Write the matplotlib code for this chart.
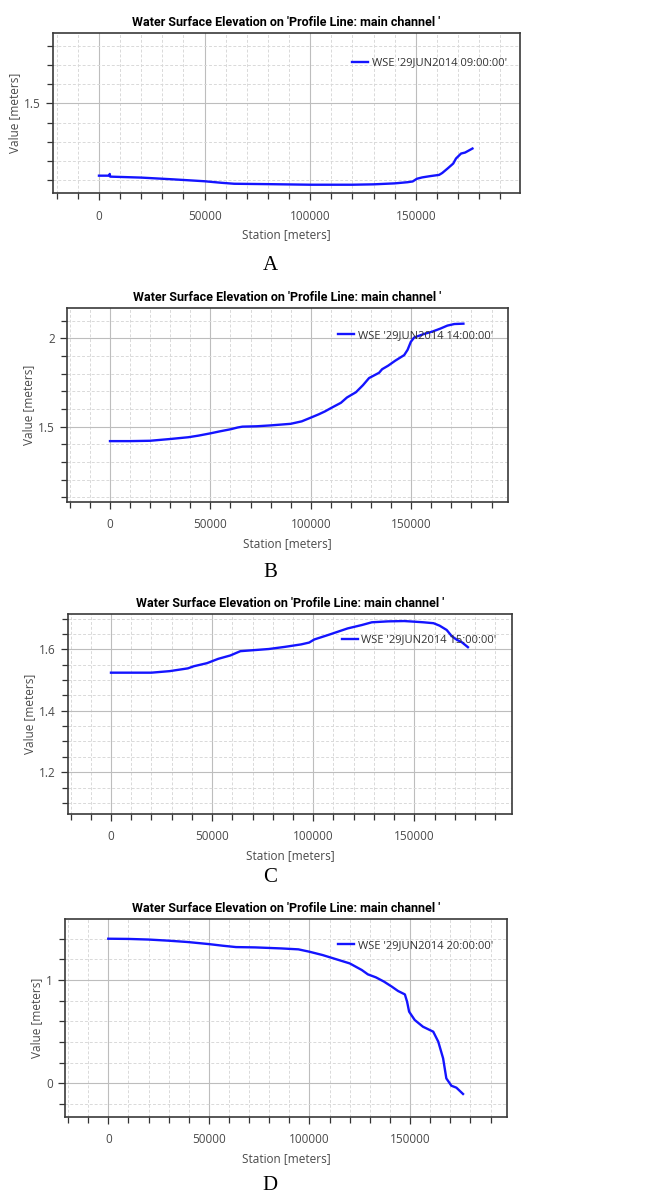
import matplotlib
matplotlib.use("Agg")
import matplotlib.pyplot as plt
from matplotlib.ticker import MultipleLocator, FormatStrFormatter

# station [m] and water surface elevation [m] for each snapshot
a_station = [0, 4900, 5100, 5300, 20000, 35000, 50000, 58000, 64000, 80000,
             100000, 120000, 130000, 140000, 146000, 148500, 150500, 153000,
             157000, 161000, 162500, 165000, 167700, 169000, 171400, 173300, 176800]
a_wse = [1.124, 1.124, 1.133, 1.119, 1.114, 1.105, 1.095, 1.087, 1.082, 1.080,
         1.077, 1.077, 1.079, 1.084, 1.090, 1.094, 1.108, 1.115, 1.122, 1.128,
         1.138, 1.161, 1.187, 1.213, 1.239, 1.244, 1.265]

b_station = [0, 10000, 20000, 30000, 39000, 44000, 50000, 55000, 60000, 63500,
             66000, 73000, 80000, 90000, 95500, 100000, 104000, 107000, 110500,
             115000, 118000, 122500, 126000, 129000, 134000, 135500, 138500,
             142000, 146500, 148200, 149800, 151500, 156500, 160500, 164500,
             168000, 171500, 176000]
b_wse = [1.418, 1.418, 1.420, 1.430, 1.440, 1.449, 1.462, 1.474, 1.485, 1.495,
         1.500, 1.502, 1.507, 1.516, 1.530, 1.551, 1.570, 1.586, 1.608,
         1.635, 1.665, 1.695, 1.735, 1.775, 1.805, 1.825, 1.845,
         1.873, 1.905, 1.935, 1.980, 2.005, 2.025, 2.038, 2.055,
         2.072, 2.081, 2.083]

c_station = [0, 20000, 29000, 38000, 41000, 47500, 53000, 59000, 64000, 68000,
             78000, 86000, 94000, 98000, 100500, 108000, 117000, 124000, 129000,
             137000, 145000, 150000, 154500, 159500, 162500, 166000, 168500,
             171000, 173500, 176500]
c_wse = [1.524, 1.524, 1.529, 1.538, 1.545, 1.555, 1.569, 1.580, 1.594, 1.596,
         1.601, 1.608, 1.616, 1.622, 1.632, 1.648, 1.668, 1.679, 1.688,
         1.691, 1.692, 1.690, 1.688, 1.685, 1.677, 1.663, 1.643,
         1.631, 1.623, 1.607]

d_station = [0, 10000, 20000, 30000, 39500, 50000, 57000, 63500, 73000, 86000,
             94500, 100000, 106500, 114500, 120000, 123000, 126000, 129000,
             133000, 137000, 141000, 144000, 147400, 148500, 149500, 152300,
             156400, 159800, 161500, 164000, 166400, 168000, 170500, 173000, 176300]
d_wse = [1.400, 1.398, 1.392, 1.381, 1.368, 1.348, 1.332, 1.319, 1.316, 1.306,
         1.297, 1.274, 1.242, 1.194, 1.161, 1.129, 1.097, 1.055,
         1.026, 0.985, 0.935, 0.894, 0.861, 0.790, 0.694, 0.613,
         0.548, 0.516, 0.500, 0.403, 0.242, 0.048, -0.023, -0.042, -0.103]

times = ["09:00:00", "14:00:00", "15:00:00", "20:00:00"]
letters = ["A", "B", "C", "D"]

W, H = 647, 1195
TITLE = "Water Surface Elevation on 'Profile Line: main channel '"
GREY = "#4a4a4a"

# panel layout in pixels: left, top, right, bottom
boxes = [(52.7, 33, 520, 193),
         (66.7, 308.3, 508.3, 501.7),
         (67.7, 614.3, 512.3, 813.7),
         (65, 919.3, 507.3, 1116.7)]
xlims = [(-21900, 199300), (-21560, 198350), (-21400, 198450), (-21500, 198300)]
ylims = [(1.034, 1.865), (1.075, 2.17), (1.065, 1.714), (-0.323, 1.588)]
ymajor = [0.5, 0.5, 0.2, 1.0]
yminor = [0.1, 0.1, 0.05, 0.2]
legend_pos = [(0.972, 0.8125), (0.965, 0.858), (0.965, 0.871), (0.968, 0.866)]
letter_y = [265, 572, 878, 1185]

series = [(a_station, a_wse), (b_station, b_wse), (c_station, c_wse), (d_station, d_wse)]

plt.rcParams['font.family'] = ['Open Sans', 'DejaVu Sans']
fig = plt.figure(figsize=(W / 100, H / 100), dpi=100)

for i, (xs, ys) in enumerate(series):
    l, t, r, b = boxes[i]
    ax = fig.add_axes([l / W, 1 - b / H, (r - l) / W, (b - t) / H])
    ax.plot(xs, ys, color="#1414ff", lw=1.7, label=f"WSE '29JUN2014 {times[i]}'")
    ax.set_xlim(*xlims[i])
    ax.set_ylim(*ylims[i])

    ax.xaxis.set_major_locator(MultipleLocator(50000))
    ax.xaxis.set_minor_locator(MultipleLocator(10000))
    ax.yaxis.set_major_locator(MultipleLocator(ymajor[i]))
    ax.yaxis.set_minor_locator(MultipleLocator(yminor[i]))
    ax.yaxis.set_major_formatter(FormatStrFormatter('%g'))
    ax.xaxis.set_major_formatter(FormatStrFormatter('%d'))

    ax.grid(which="major", color="#bdbdbd", lw=0.8, ls="-")
    ax.grid(which="minor", color="#d9d9d9", lw=0.7, ls=(0, (3, 2)))
    ax.set_axisbelow(True)

    ax.tick_params(which="both", direction="out", colors="#333333",
                   labelcolor=GREY, labelsize=8.5, width=0.9)
    ax.tick_params(which="major", length=5)
    ax.tick_params(which="minor", length=4)
    ax.tick_params(axis="x", which="major", pad=7)
    for s in ax.spines.values():
        s.set_color("#3a3a3a")
        s.set_linewidth(1.2)

    ax.set_xlabel("Station [meters]", color=GREY, fontsize=8.5, labelpad=4)
    ax.set_ylabel("Value [meters]", color=GREY, fontsize=8.5, labelpad=2)
    ax.set_title(TITLE, fontsize=9, fontweight="bold", pad=5,
                 family=['Roboto', 'DejaVu Sans'])

    leg = ax.legend(loc="center right", bbox_to_anchor=legend_pos[i],
                    frameon=False, fontsize=8, handlelength=1.4,
                    handletextpad=0.35, borderpad=0, borderaxespad=0)
    for txt in leg.get_texts():
        txt.set_color("#333333")

    fig.text(270 / W, 1 - letter_y[i] / H, letters[i], ha="center", va="center",
             fontsize=15, family=['Liberation Serif', 'DejaVu Serif'])

fig.savefig("out.png", dpi=100)
